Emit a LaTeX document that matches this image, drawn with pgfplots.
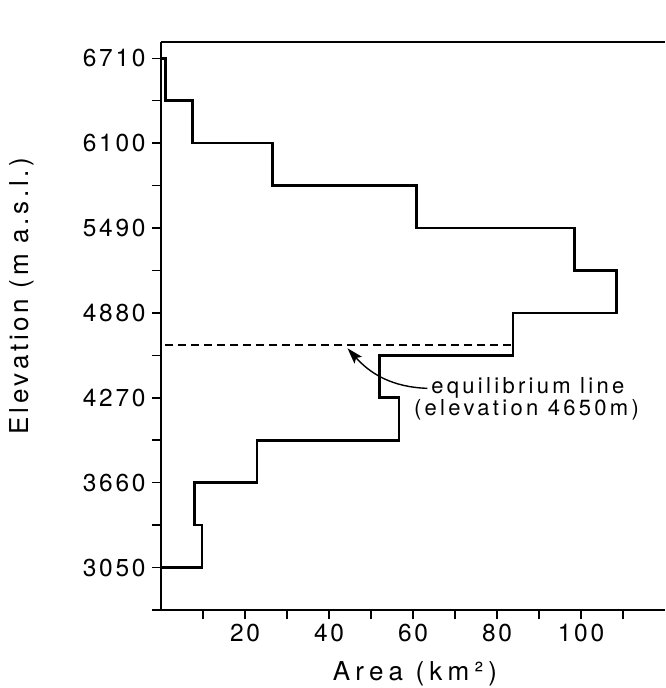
\documentclass[border=0pt]{standalone}
\usepackage{fontspec}
\setmainfont{TeX Gyre Heros}[LetterSpace=11]
\newfontfamily\wideA{TeX Gyre Heros}[LetterSpace=15]
\newfontfamily\wideB{TeX Gyre Heros}[LetterSpace=14]
\newfontfamily\wideX{TeX Gyre Heros}[LetterSpace=20]
\usepackage{pgfplots}
\pgfplotsset{compat=1.18}
\usetikzlibrary{arrows.meta}

\begin{document}
\begin{tikzpicture}
\useasboundingbox (0,0) rectangle (665pt,688pt);
\begin{axis}[
  at={(161pt,78pt)}, anchor=south west,
  scale only axis, width=504pt, height=568pt,
  xmin=0, xmax=120, ymin=2745, ymax=6827,
  axis x line*=bottom, axis y line*=left,
  axis line style={line width=1.5pt, -},
  tick align=outside, tick style={line width=1.5pt, black},
  major tick length=9pt, minor tick length=9pt,
  xtick={20,40,...,100}, minor xtick={10,30,...,110},
  ytick={3050,3660,...,6710}, minor ytick={2745,3355,...,6405},
  /pgf/number format/assume math mode=true,
  /pgf/number format/1000 sep={},
  tick label style={font=\fontsize{24.5}{28}\selectfont},
  yticklabel style={xshift=-3pt},
  xticklabel style={yshift=-2pt},
  clip=false]
\addplot[black, line width=2.6pt, line join=miter] coordinates {
  (0,6710) (1,6710) (1,6405) (7.5,6405) (7.5,6100) (26.5,6100)
  (26.5,5795) (60.8,5795) (60.8,5490) (98.5,5490) (98.5,5185)
  (108.5,5185) (108.5,4880) (83.8,4880) (83.8,4575) (52,4575)
  (52,4270) (56.7,4270) (56.7,3965) (22.9,3965) (22.9,3660)
  (8,3660) (8,3355) (9.8,3355) (9.8,3050) (0,3050)};
% equilibrium line at 4650 m
\addplot[black, line width=1.4pt, dash pattern=on 8pt off 5pt] coordinates {(1,4650) (83.8,4650)};
\draw[line width=1.5pt] (rel axis cs:0,1) -- (rel axis cs:1,1);
\coordinate (arrS) at (axis cs:63.4,4338);
\coordinate (arrE) at (axis cs:44.4,4626);
\node[anchor=west, inner sep=0pt, font=\wideA\fontsize{22}{26}\selectfont] at (axis cs:64.3,4341) {equilibrium line};
\node[anchor=west, inner sep=0pt, font=\wideA\fontsize{22}{26}\selectfont] at (axis cs:60.2,4182) {(elevation 4650m)};
\end{axis}
\draw[line width=1.4pt, -{Stealth[length=16pt, width=10pt, inset=3pt]}] (arrS) to[out=178, in=-48] (arrE);
\node[anchor=base, font=\wideX\fontsize{26}{30}\selectfont] at (415pt,7pt) {Area (km²)};
\node[anchor=base, rotate=90, font=\wideB\fontsize{26}{30}\selectfont] at (28pt,392pt) {Elevation (m a.s.l.)};
\end{tikzpicture}
\end{document}
